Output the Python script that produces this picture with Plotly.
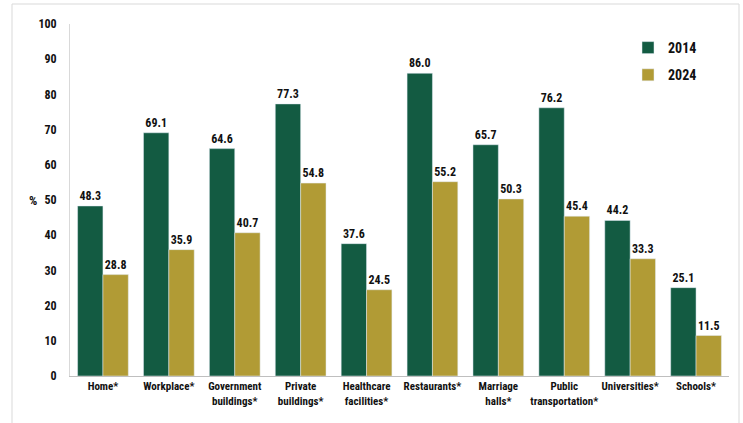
import plotly.graph_objects as go

categories = ["Home*", "Workplace*", "Government<br>buildings*", "Private<br>buildings*",
              "Healthcare<br>facilities*", "Restaurants*", "Marriage<br>halls*",
              "Public<br>transportation*", "Universities*", "Schools*"]
v2014 = [48.3, 69.1, 64.6, 77.3, 37.6, 86.0, 65.7, 76.2, 44.2, 25.1]
v2024 = [28.8, 35.9, 40.7, 54.8, 24.5, 55.2, 50.3, 45.4, 33.3, 11.5]
yticks = [0, 10, 20, 30, 40, 50, 60, 70, 80, 90, 100]

FONT = "Liberation Sans Narrow, Arial Narrow, Roboto Condensed, Open Sans, sans-serif"
GREEN = "#135B42"
GOLD = "#B19B35"

fig = go.Figure()
fig.add_trace(go.Bar(name="<b>2014</b>", x=categories, y=v2014, marker_color=GREEN,
                     legendgroup="g1",
                     text=[f"<b>{v:.1f}</b>" for v in v2014], textposition="outside",
                     textfont=dict(size=12, color="#111", family=FONT), cliponaxis=False))
fig.add_trace(go.Bar(name="<b>2024</b>", x=categories, y=v2024, marker_color=GOLD,
                     legendgroup="g2",
                     text=[f"<b>{v:.1f}</b>" for v in v2024], textposition="outside",
                     textfont=dict(size=12, color="#111", family=FONT), cliponaxis=False))

pw = 743 - 70 - 14
ph = 423 - 24 - 47
def px_x(x):
    return (x - 70) / pw
def px_y(y):
    return (423 - 47 - y) / ph

fig.update_layout(
    width=743, height=423,
    margin=dict(l=70, r=14, t=24, b=47),
    paper_bgcolor="white", plot_bgcolor="white",
    barmode="group", bargap=0.23, bargroupgap=0,
    font=dict(family=FONT, size=12, color="#111"),
    showlegend=True,
    legend=dict(x=px_x(628), y=px_y(32), xanchor="left", yanchor="top",
                font=dict(size=14, family=FONT, color="#111"),
                itemwidth=30, tracegroupgap=6, bgcolor="rgba(0,0,0,0)"),
    xaxis=dict(showline=True, linecolor="#BFBFBF", linewidth=1, ticks="",
               tickvals=categories, ticktext=[f"<b>{c}</b>" for c in categories],
               tickfont=dict(size=11, family=FONT, color="#111"), showgrid=False),
    yaxis=dict(range=[0, 100], tickvals=yticks, ticktext=[f"<b>{t}</b>" for t in yticks],
               showline=True, linecolor="#D9D9D9", linewidth=1, showgrid=False,
               ticks="", ticklabelstandoff=10, zeroline=False,
               tickfont=dict(size=12, family=FONT, color="#111")),
    annotations=[dict(text="<b>%</b>", x=px_x(27), y=px_y(200), xref="paper", yref="paper",
                      showarrow=False, font=dict(size=13, family=FONT, color="#111"))],
    shapes=[dict(type="rect", xref="paper", yref="paper",
                 x0=px_x(12), x1=px_x(739), y0=px_y(430), y1=px_y(4),
                 line=dict(color="#D9D9D9", width=1), layer="below")],
)

fig.write_html("out.html")
